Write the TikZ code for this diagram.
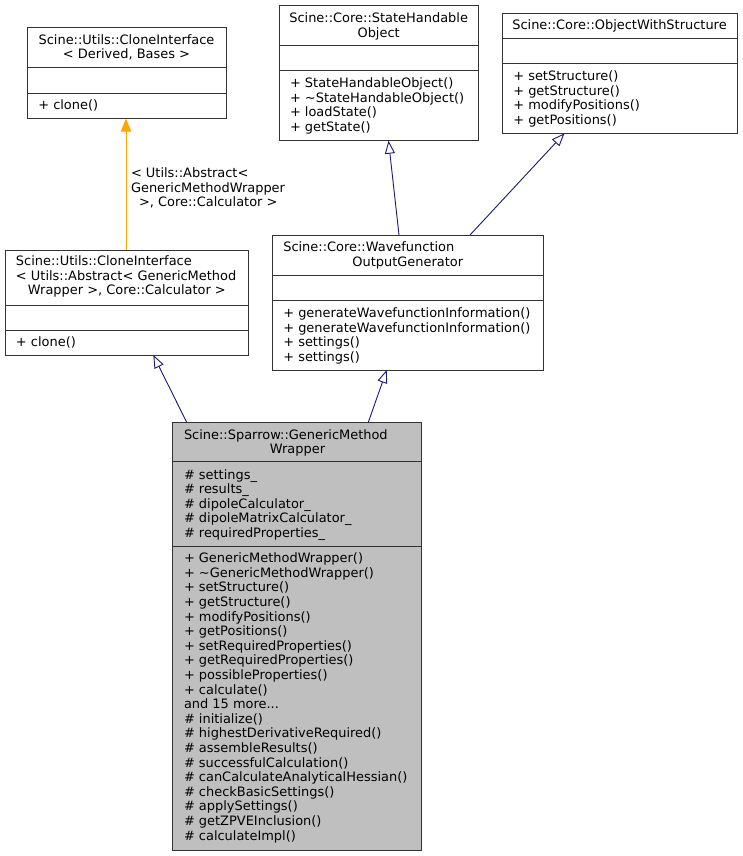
\documentclass[tikz,border=0pt]{standalone}
\usepackage{fontspec}
\setmainfont{DejaVu Sans}
\usetikzlibrary{arrows.meta}
\definecolor{mblue}{HTML}{191970}
\definecolor{dorange}{HTML}{FFA500}
\definecolor{boxgray}{HTML}{BFBFBF}
\definecolor{bordercol}{HTML}{333333}
\newcommand\fs{\fontsize{12.95}{14.6}\selectfont}
\tikzset{
  box/.style={draw=bordercol, line width=1pt, anchor=north west, inner sep=0, outer sep=0},
  sep/.style={draw=bordercol, line width=1pt},
  txt/.style={anchor=north west, inner sep=0, outer sep=0, align=left, font=\fs},
  ctxt/.style={anchor=north, inner sep=0, outer sep=0, align=center, font=\fs},
  inh/.style={draw=mblue, line width=0.9pt, -{Triangle[open, length=13pt, width=10pt]}},
  tmpl/.style={draw=dorange, line width=0.9pt, -{Triangle[length=13pt, width=10.5pt]}},
}
\begin{document}
\begin{tikzpicture}[x=1pt, y=-1pt]
\useasboundingbox (0,0) rectangle (743,856);
% ---- Box A: CloneInterface< Derived, Bases >
\node[box, minimum width=199pt, minimum height=91.4pt] (A) at (27,27.3) {};
\draw[sep] (A.west |- 0,67.3) -- (A.east |- 0,67.3);
\draw[sep] (A.west |- 0,93.3) -- (A.east |- 0,93.3);
\node[ctxt] (Atitle) at (126.5,33.8) {\strut Scine::Utils::CloneInterface\\\strut < Derived, Bases >};
\node[txt] (Aops) at (38.3,98.8) {\strut + clone()};
% ---- Box B: CloneInterface< Utils::Abstract<...> >
\node[box, minimum width=243pt, minimum height=105pt] (B) at (5,250) {};
\draw[sep] (B.west |- 0,305) -- (B.east |- 0,305);
\draw[sep] (B.west |- 0,330) -- (B.east |- 0,330);
\node[txt] (Btitle) at (16,255.5) {\strut Scine::Utils::CloneInterface\\\strut < Utils::Abstract< GenericMethod\\\strut\hspace*{12pt}Wrapper >, Core::Calculator >};
\node[txt] (Bops) at (16,336.5) {\strut + clone()};
% ---- Box C: StateHandableObject
\node[box, minimum width=199.3pt, minimum height=135pt] (C) at (279,5.7) {};
\draw[sep] (C.west |- 0,45.7) -- (C.east |- 0,45.7);
\draw[sep] (C.west |- 0,71) -- (C.east |- 0,71);
\node[ctxt] (Ctitle) at (378.65,12.3) {\strut Scine::Core::StateHandable\\\strut Object};
\node[txt] (Cops) at (290,77.3) {\strut + StateHandableObject()\\\strut + \textasciitilde StateHandableObject()\\\strut + loadState()\\\strut + getState()};
% ---- Box D: ObjectWithStructure
\node[box, minimum width=235.4pt, minimum height=120pt] (D) at (502.3,13.3) {};
\draw[sep] (D.west |- 0,38.7) -- (D.east |- 0,38.7);
\draw[sep] (D.west |- 0,64) -- (D.east |- 0,64);
\node[ctxt] (Dtitle) at (619.5,19.3) {\strut Scine::Core::ObjectWithStructure};
\node[txt] (Dops) at (513.3,70.3) {\strut + setStructure()\\\strut + getStructure()\\\strut + modifyPositions()\\\strut + getPositions()};
% ---- Box E: WavefunctionOutputGenerator
\node[box, minimum width=271pt, minimum height=135pt] (E) at (272.3,235) {};
\draw[sep] (E.west |- 0,275.3) -- (E.east |- 0,275.3);
\draw[sep] (E.west |- 0,300.7) -- (E.east |- 0,300.7);
\node[txt] (Etitle1) at (283.3,241.7) {\strut Scine::Core::Wavefunction};
\node[ctxt] (Etitle2) at (407.8,256.5) {\strut OutputGenerator};
\node[txt] (Eops) at (283.3,307.3) {\strut + generateWavefunctionInformation()\\\strut + generateWavefunctionInformation()\\\strut + settings()\\\strut + settings()};
% ---- Box F: GenericMethodWrapper
\node[box, fill=boxgray, minimum width=249pt, minimum height=428.5pt] (F) at (172.7,422.3) {};
\draw[sep] (F.west |- 0,461.7) -- (F.east |- 0,461.7);
\draw[sep] (F.west |- 0,546) -- (F.east |- 0,546);
\node[txt] (Ftitle1) at (184,428.8) {\strut Scine::Sparrow::GenericMethod};
\node[ctxt] (Ftitle2) at (297.5,443.3) {\strut Wrapper};
\node[txt] (Fattr) at (184,468.8) {\strut \# settings\_\\\strut \# results\_\\\strut \# dipoleCalculator\_\\\strut \# dipoleMatrixCalculator\_\\\strut \# requiredProperties\_};
\node[txt] (Fops) at (184,552.5) {\strut + GenericMethodWrapper()\\\strut + \textasciitilde GenericMethodWrapper()\\\strut + setStructure()\\\strut + getStructure()\\\strut + modifyPositions()\\\strut + getPositions()\\\strut + setRequiredProperties()\\\strut + getRequiredProperties()\\\strut + possibleProperties()\\\strut + calculate()\\\strut and 15 more...\\\strut \# initialize()\\\strut \# highestDerivativeRequired()\\\strut \# assembleResults()\\\strut \# successfulCalculation()\\\strut \# canCalculateAnalyticalHessian()\\\strut \# checkBasicSettings()\\\strut \# applySettings()\\\strut \# getZPVEInclusion()\\\strut \# calculateImpl()};
% ---- connectors
\draw[tmpl] ([xshift=121pt]B.north west) -- ([xshift=99pt]A.south west);
\node[txt] (Tlabel) at (131,167.5) {\strut < Utils::Abstract<\\\strut GenericMethodWrapper\\\strut\hspace*{8pt}>, Core::Calculator >};
\draw[inh] ([xshift=14pt]F.north west) -- ([xshift=148.3pt]B.south west);
\draw[inh] ([xshift=195.6pt]F.north west) -- ([xshift=114.4pt]E.south west);
\draw[inh] ([xshift=126.7pt]E.north west) -- ([xshift=109.5pt]C.south west);
\draw[inh] ([xshift=197.7pt]E.north west) -- ([xshift=62.2pt]D.south west);
\end{tikzpicture}
\end{document}
